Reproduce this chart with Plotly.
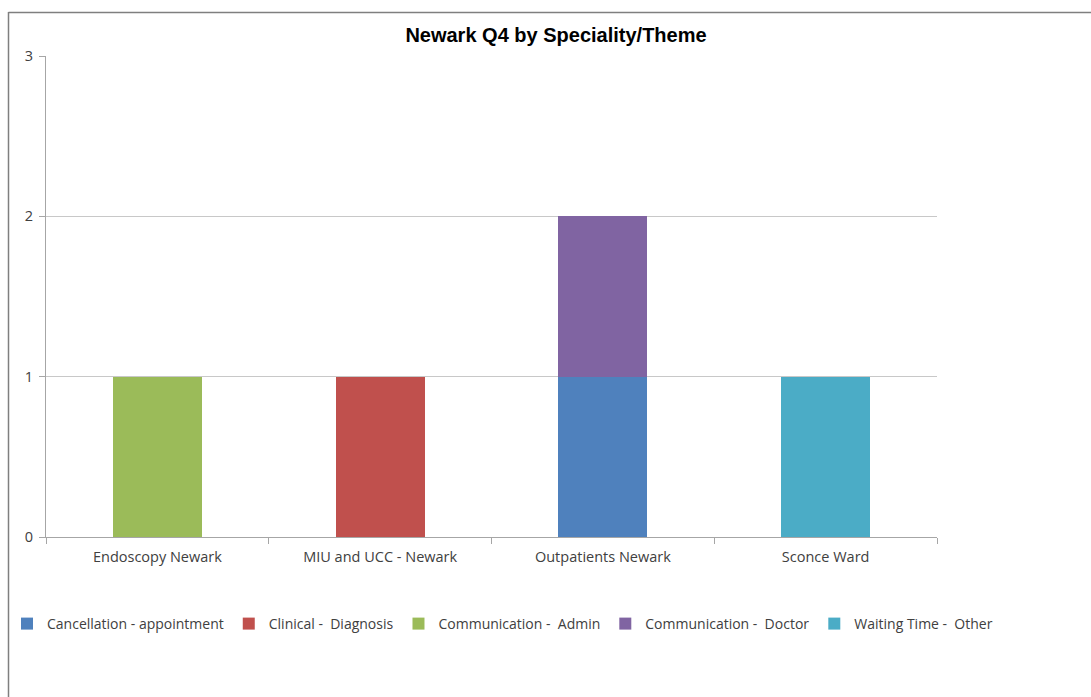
import plotly.graph_objects as go

categories = ["Endoscopy Newark", "MIU and UCC - Newark", "Outpatients Newark", "Sconce Ward"]
series_names = [
    "Cancellation - appointment",
    "Clinical -  Diagnosis",
    "Communication -  Admin",
    "Communication -  Doctor",
    "Waiting Time -  Other",
]
cancellation = [0, 0, 1, 0]
clinical = [0, 1, 0, 0]
comm_admin = [1, 0, 0, 0]
comm_doctor = [0, 0, 1, 0]
waiting = [0, 0, 0, 1]
series_values = [cancellation, clinical, comm_admin, comm_doctor, waiting]
colors = ["#4F81BD", "#C0504D", "#9BBB59", "#8064A2", "#4BACC6"]

W, H = 1091, 697
ml, mr, mt, mb = 46, 154, 56, 160
pw, ph = W - ml - mr, H - mt - mb

fig = go.Figure()
for name, vals, col in zip(series_names, series_values, colors):
    fig.add_trace(go.Bar(
        x=categories, y=vals, name=name.replace("  ", " \u00a0"),
        marker=dict(color=col, line=dict(width=0)),
    ))

def px_x(p):
    return (p - ml) / pw

def px_y(p):
    return (H - mb - p) / ph

fig.update_layout(
    width=W, height=H,
    margin=dict(l=ml, r=mr, t=mt, b=mb, pad=0),
    barmode="stack", bargap=0.6,
    plot_bgcolor="white", paper_bgcolor="white",
    font=dict(family="Open Sans, Noto Sans, sans-serif", size=14.5, color="#404040"),
    title=dict(text="<b>Newark Q4 by Speciality/Theme</b>", x=px_x(556), xanchor="center",
               xref="paper", y=1 - 35 / H, yanchor="middle",
               font=dict(family="Liberation Sans, Arial, sans-serif", size=20, color="#000000")),
    showlegend=True,
    legend=dict(orientation="h", x=px_x(998), xanchor="right", y=px_y(624), yanchor="middle",
                font=dict(size=14, color="#404040"), itemwidth=30, traceorder="normal",
                bgcolor="rgba(0,0,0,0)"),
    xaxis=dict(showline=True, linecolor="#A6A6A6", linewidth=1, ticks="outside",
               tickson="boundaries", ticklen=6, tickcolor="#A6A6A6", showgrid=False,
               ticklabelstandoff=7,
               tickfont=dict(size=14.5, color="#404040"), fixedrange=True),
    yaxis=dict(range=[0, 3], dtick=1, showline=True, linecolor="#A6A6A6", linewidth=1,
               ticks="outside", ticklen=6, tickcolor="#A6A6A6", showgrid=True,
               gridcolor="#C8C8C8", gridwidth=1, zeroline=False, ticklabelstandoff=3,
               tickfont=dict(size=14.5, color="#404040"), fixedrange=True),
    shapes=[
        dict(type="line", xref="paper", yref="paper", x0=px_x(8.5), x1=px_x(8.5),
             y0=px_y(12), y1=px_y(H + 10), line=dict(color="#7F7F7F", width=1.5)),
        dict(type="line", xref="paper", yref="paper", x0=px_x(8.5), x1=px_x(W + 10),
             y0=px_y(12.5), y1=px_y(12.5), line=dict(color="#7F7F7F", width=1.5)),
    ],
)

fig.write_html("out.html", config={"displayModeBar": False},
               post_script="document.body.style.margin='0px';document.body.style.overflow='hidden';")
